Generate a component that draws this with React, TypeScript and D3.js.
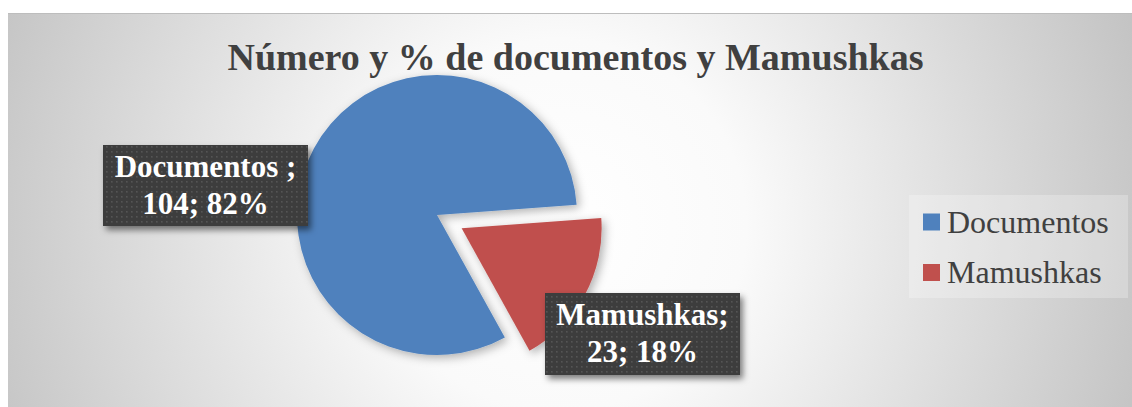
import React from "react";
import * as d3 from "d3";

const categories = ["Documentos ", "Mamushkas"];
const values = [104, 23];
const colors = ["#4F81BD", "#C0504D"];
const title = "Número y % de documentos y Mamushkas";

const W = 1132;
const H = 407;
const cx = 437;
const cy = 215;
const R = 140;
const startDeg = 151;
const explode = [0, 28];
const labelBoxes = [
  { dx: -231.5, dy: -29.5, w: 205, h: 81 },
  { dx: 205.5, dy: 119, w: 195, h: 82 },
];

export default function App() {
  const total = d3.sum(values);
  const pie = d3
    .pie<number>()
    .sort(null)
    .startAngle((startDeg * Math.PI) / 180)
    .endAngle((startDeg * Math.PI) / 180 + 2 * Math.PI);
  const arcs = pie(values);
  const arc = d3.arc<d3.PieArcDatum<number>>().innerRadius(0).outerRadius(R);
  const serif = "'Liberation Serif', 'Times New Roman', serif";

  return (
    <svg
      width={W}
      height={H}
      style={{ position: "absolute", left: 0, top: 0 }}
    >
      <defs>
        <radialGradient id="bg" gradientUnits="userSpaceOnUse" cx={560} cy={225} r={620}>
          <stop offset="0" stopColor="#ffffff" />
          <stop offset="0.3" stopColor="#fafafa" />
          <stop offset="1" stopColor="#c2c2c2" />
        </radialGradient>
        <pattern id="dots" width="5" height="5" patternUnits="userSpaceOnUse">
          <rect width="5" height="5" fill="#3d3d3d" />
          <rect x="1" y="1" width="1.6" height="1.6" fill="#555555" />
        </pattern>
        <filter id="pieShadow" x="-20%" y="-20%" width="140%" height="140%">
          <feDropShadow dx="3" dy="3" stdDeviation="5" floodColor="#000" floodOpacity="0.3" />
        </filter>
        <filter id="boxShadow" x="-20%" y="-20%" width="140%" height="140%">
          <feDropShadow dx="3" dy="4" stdDeviation="3" floodColor="#000" floodOpacity="0.5" />
        </filter>
      </defs>
      <rect x={8} y={13} width={W - 8} height={H - 13} fill="url(#bg)" />
      <line x1={8} x2={W} y1={13.5} y2={13.5} stroke="#bdbdbd" strokeWidth={1} />
      <text
        x={575.5}
        y={70}
        textAnchor="middle"
        fontFamily={serif}
        fontWeight="bold"
        fontSize={38}
        fill="#404040"
      >
        {title}
      </text>
      <g filter="url(#pieShadow)">
        {arcs.map((a, i) => {
          const mid = (a.startAngle + a.endAngle) / 2;
          const ox = Math.sin(mid) * explode[i];
          const oy = -Math.cos(mid) * explode[i];
          return (
            <path
              key={i}
              d={arc(a) || ""}
              transform={`translate(${cx + ox},${cy + oy})`}
              fill={colors[i]}
            />
          );
        })}
      </g>
      {arcs.map((a, i) => {
        const b = labelBoxes[i];
        const bx = cx + b.dx - b.w / 2;
        const by = cy + b.dy - b.h / 2;
        const pct = Math.round((values[i] / total) * 100);
        return (
          <g key={i}>
            <rect
              x={bx}
              y={by}
              width={b.w}
              height={b.h}
              fill="url(#dots)"
              filter="url(#boxShadow)"
            />
            <text
              textAnchor="middle"
              fontFamily={serif}
              fontWeight="bold"
              fontSize={31}
              fill="#ffffff"
            >
              <tspan x={bx + b.w / 2} y={by + 32}>
                {categories[i] + ";"}
              </tspan>
              <tspan x={bx + b.w / 2} y={by + 69}>
                {`${values[i]}; ${pct}%`}
              </tspan>
            </text>
          </g>
        );
      })}
      <rect x={909} y={195} width={219} height={103} fill="#ffffff" opacity={0.25} />
      {categories.map((c, i) => (
        <g key={i}>
          <rect x={923} y={213.5 + i * 50.5} width={17} height={17} fill={colors[i]} />
          <text
            x={947}
            y={232.5 + i * 50.5}
            fontFamily={serif}
            fontSize={32}
            fill="#404040"
          >
            {c.trim()}
          </text>
        </g>
      ))}
    </svg>
  );
}
